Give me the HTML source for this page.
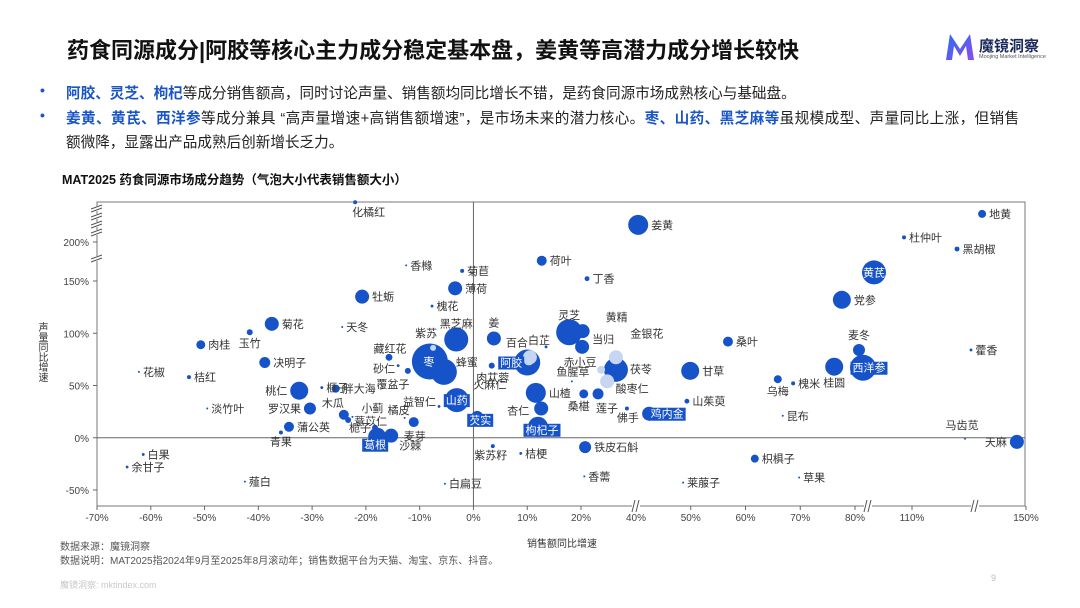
<!DOCTYPE html>
<html><head><meta charset="utf-8">
<style>
body{margin:0;background:#fff;}
#root{position:relative;width:1080px;height:608px;overflow:hidden;font-family:"Liberation Sans","Noto Sans CJK SC",sans-serif;color:#222;}
.abs{position:absolute;white-space:nowrap;}
.b{color:#1a55c8;font-weight:bold;}
</style></head>
<body>
<div id="root">
<div class="abs" style="left:67px;top:33px;font-size:22px;font-weight:bold;color:#111;">药食同源成分|阿胶等核心主力成分稳定基本盘，姜黄等高潜力成分增长较快</div>
<div class="abs" style="left:944px;top:32px;width:98px;height:32px;">
 <svg width="32" height="30" style="position:absolute;left:0;top:0"><defs><linearGradient id="lg" x1="0" y1="0" x2="1" y2="1"><stop offset="0" stop-color="#2d6df0"/><stop offset="1" stop-color="#8a4cf0"/></linearGradient></defs><path d="M2 28 L6 2 L16 17 L26 2 L30 28 L24 28 L22 14 L16 24 L10 14 L8 28Z" fill="url(#lg)"/></svg>
 <div class="abs" style="left:35px;top:3px;font-size:15px;font-weight:bold;color:#1b2a5a;">魔镜洞察</div>
 <div class="abs" style="left:35px;top:22px;font-size:5.5px;color:#555;">Moojing Market Intelligence</div>
</div>
<div class="abs" style="left:40px;top:82px;font-size:14px;" ><span class="b">•</span></div>
<div class="abs" style="left:66px;top:82px;font-size:14.6px;"><span class="b">阿胶、灵芝、枸杞</span>等成分销售额高，同时讨论声量、销售额均同比增长不错，是药食同源市场成熟核心与基础盘。</div>
<div class="abs" style="left:40px;top:107px;font-size:14px;"><span class="b">•</span></div>
<div class="abs" style="left:66px;top:107px;font-size:14.6px;letter-spacing:0.4px;"><span class="b">姜黄、黄芪、西洋参</span>等成分兼具 “高声量增速+高销售额增速”，是市场未来的潜力核心。<span class="b">枣、山药、黑芝麻等</span>虽规模成型、声量同比上涨，但销售</div>
<div class="abs" style="left:66px;top:131px;font-size:14.6px;">额微降，显露出产品成熟后创新增长乏力。</div>
<div class="abs" style="left:62px;top:169px;font-size:12.5px;font-weight:bold;color:#111;">MAT2025 药食同源市场成分趋势（气泡大小代表销售额大小）</div>
<div class="abs" style="left:34px;top:322px;font-size:10px;writing-mode:vertical-rl;color:#333;">声量同比增速</div>
<div class="abs" style="left:527px;top:535px;font-size:10px;color:#333;">销售额同比增速</div>
<div class="abs" style="left:60px;top:538px;font-size:10px;color:#555;">数据来源：魔镜洞察</div>
<div class="abs" style="left:60px;top:552px;font-size:10px;color:#555;">数据说明：MAT2025指2024年9月至2025年8月滚动年；销售数据平台为天猫、淘宝、京东、抖音。</div>
<div class="abs" style="left:60px;top:578px;font-size:9px;color:#c8c8c8;">魔镜洞察: mktindex.com</div>
<div class="abs" style="left:991px;top:573px;font-size:9px;color:#bbb;">9</div>
<svg id="chart" width="1080" height="608" style="position:absolute;left:0;top:0"></svg>
</div>
<script>
const names=["化橘红","香橼","菊苣","薄荷","牡蛎","槐花","天冬","菊花","玉竹","肉桂","决明子","花椒","桔红","桃仁","榧子","胖大海","罗汉果","淡竹叶","蒲公英","青果","木瓜","薏苡仁","小蓟","栀子","葛根","沙棘","麦芽","橘皮","益智仁","山药","覆盆子","砂仁","藏红花","枣","蜂蜜","紫苏","黑芝麻","姜","白芷","阿胶","百合","肉苁蓉","火麻仁","灵芝","黄精","当归","金银花","茯苓","赤小豆","酸枣仁","鱼腥草","山楂","杏仁","枸杞子","桑椹","莲子","佛手","鸡内金","甘草","山茱萸","芡实","紫苏籽","桔梗","铁皮石斛","香薷","莱菔子","白扁豆","薤白","白果","余甘子","荷叶","丁香","姜黄","地黄","杜仲叶","黑胡椒","黄芪","党参","桑叶","麦冬","西洋参","桂圆","藿香","乌梅","槐米","昆布","马齿苋","天麻","枳椇子","草果"];
const salesGrowth=[-22,-12.5,-2.1,-3.4,-20.7,-7.7,-24.4,-37.5,-41.6,-50.7,-38.8,-62.2,-52.9,-32.4,-28.2,-25.6,-30.4,-49.5,-34.3,-35.8,-24.1,-23.3,-22.5,-18.3,-17.9,-15.3,-11.1,-12.8,-6.4,-3.1,-12.2,-14,-15.7,-8.1,-5.5,-7.5,-3.2,3.8,13.5,10,10.5,3.4,10.3,17.8,20.6,20.4,32.7,32.7,27.3,29.5,18.3,11.6,12.6,12,21,26.2,36.7,42.4,49.9,49.3,0.7,3.6,8.8,21.5,21.2,48.6,-5.3,-42.5,-61.4,-64.4,12.7,22.2,40.4,134.6,105.8,125.8,90,77.6,56.8,82.1,84.2,76.2,130.7,65.9,68.7,66.8,128.6,146.8,61.7,69.8];
const volumeGrowth=[251,170,163,143,135,126,106,109,101,89,72,63,58,45,48,47,28,28,10.5,5,22,17,20,9.6,1,2,15,19,30,36,64,69,77,73,63,86,94,95,87,72,77,69,74,101,102,87,77,65,65,54,54,43,28,10.5,42,42,28,23,64,35,20,-8,-15,-9,-37,-43,-44,-42,-16,-28,176,153,222,236,206,191,161,132,92,84,67,68,84,56,52,21,-1,-4,-20,-38];
const salesSize=[4,1,4,49,49,2,1,49,9,20,30,1,4,81,2,16,36,1,25,4,25,9,1,9,81,49,25,1,2,144,9,2,12,324,169,9,144,49,2,169,49,9,25,169,49,49,49,144,16,49,1,100,49,100,20,30,4,49,81,6,36,4,2,36,1,1,1,1,2,2,25,6,100,16,4,6,144,81,25,36,169,81,2,16,4,1,1,49,16,1];
const paleSet=["紫苏","百合","火麻仁","金银花","赤小豆","酸枣仁"];
const boxedSet=["阿胶","山药","葛根","芡实","枸杞子","鸡内金","西洋参"];
const insideSet=["枣","黄芪"];
const xTicks=[-70,-60,-50,-40,-30,-20,-10,0,10,20,40,50,60,70,80,110,150];
const yTicks=[-50,0,50,100,150,200];
const xTickLabels=xTicks.map(v=>v+"%");
const yTickLabels=yTicks.map(v=>v+"%");

const XK=[[-70,97],[20,581],[40,636],[80,855],[110,912],[150,1026]];
const YK=[[-50,490],[150,281],[200,242],[300,164]];
function pw(K,v){for(let i=0;i<K.length-1;i++){if(v<=K[i+1][0]||i==K.length-2){const [a,pa]=K[i],[b,pb]=K[i+1];return pa+(v-a)/(b-a)*(pb-pa);}}}
const xS=v=>pw(XK,v), yS=v=>pw(YK,v);
const rS=s=>Math.sqrt(s);
const L=97,R=1025,T=202,B=506;
const NS="http://www.w3.org/2000/svg";
const svg=document.getElementById('chart');
function mk(t,a,p){const e=document.createElementNS(NS,t);for(const k in a)e.setAttribute(k,a[k]);(p||svg).appendChild(e);return e;}
const frame=mk('rect',{x:L,y:T,width:R-L,height:B-T,fill:'none',stroke:'#777','stroke-width':1});


const zx=mk('line',{x1:xS(0),x2:xS(0),y1:T,y2:B,stroke:'#666','stroke-width':1});


const zy=mk('line',{x1:L,x2:R,y1:yS(0),y2:yS(0),stroke:'#666','stroke-width':1});


xTicks.forEach((v,i)=>{const x=xS(v);
 mk('line',{x1:x,x2:x,y1:B,y2:B+4,stroke:'#666'});
 const t=mk('text',{x:x,y:B+15,'text-anchor':'middle','font-size':10,fill:'#444'});t.textContent=xTickLabels[i];
 
 });
yTicks.forEach((v,i)=>{const y=yS(v);
 mk('line',{x1:L-4,x2:L,y1:y,y2:y,stroke:'#666'});
 const t=mk('text',{x:L-8,y:y+4,'text-anchor':'end','font-size':10,fill:'#444'});t.textContent=yTickLabels[i];
 
 });
[636,868,975].forEach(x=>{mk('rect',{x:x-4,y:B-6,width:8,height:12,fill:'#fff'});
 mk('line',{x1:x-4,y1:B+6,x2:x-1,y2:B-6,stroke:'#555'});mk('line',{x1:x,y1:B+6,x2:x+3,y2:B-6,stroke:'#555'});});
[208,216,224,232,258].forEach(y=>{mk('rect',{x:L-6,y:y-2,width:12,height:5,fill:'#fff'});
 mk('line',{x1:L-6,y1:y+1,x2:L+5,y2:y-3,stroke:'#555'});mk('line',{x1:L-6,y1:y+4,x2:L+5,y2:y,stroke:'#555'});});
const lay={"化橘红":[-3,14,'start'],"玉竹":[0,15,'middle'],"桃仁":['L',4,'end'],"罗汉果":['L',4,'end'],"青果":[0,13,'middle'],"木瓜":[-11,-8,'middle'],"小蓟":[20,-5,'middle'],"薏苡仁":[6,5,'start'],"栀子":[-4,4,'end'],"沙棘":[19,14,'middle'],"麦芽":[1,18,'middle'],"橘皮":[-6,-4,'middle'],"益智仁":[-3,-1,'end'],"覆盆子":[-15,17,'middle'],"砂仁":[-3,7,'end'],"藏红花":[1,-5,'middle'],"紫苏":[-7,-11,'middle'],"黑芝麻":[0,-12,'middle'],"蜂蜜":[23,-6,'middle'],"姜":[0,-12,'middle'],"百合":[-13,-11,'middle'],"白芷":[-7,-3,'middle'],"阿胶":[-16,4,'middle'],"山药":[0,4,'middle'],"葛根":[-2,12,'middle'],"肉苁蓉":[1,16,'middle'],"火麻仁":[-39,28,'middle'],"灵芝":[0,-13,'middle'],"黄精":[34,-10,'middle'],"当归":[21,-4,'middle'],"金银花":[31,-20,'middle'],"茯苓":[25,3,'middle'],"赤小豆":[-21,-4,'middle'],"鱼腥草":[1,-6,'middle'],"酸枣仁":[25,11,'middle'],"桑椹":[-5,16,'middle'],"莲子":[9,18,'middle'],"佛手":[1,13,'middle'],"鸡内金":[18,4,'middle'],"杏仁":[-23,6,'middle'],"枸杞子":[4,7,'middle'],"芡实":[3,7,'middle'],"紫苏籽":[-2,13,'middle'],"乌梅":[0,16,'middle'],"桂圆":[0,20,'middle'],"麦冬":[0,-11,'middle'],"西洋参":[6,4,'middle'],"马齿苋":[-3,-10,'middle'],"天麻":['L',4,'end'],"枣":[-1,4,'middle'],"黄芪":[0,4,'middle']};
const order=names.map((n,i)=>i).sort((a,b)=>{const pa=paleSet.includes(names[a]),pb=paleSet.includes(names[b]);if(pa!=pb)return pa?1:-1;return salesSize[b]-salesSize[a];});
order.forEach(i=>{
 const c=mk('circle',{cx:xS(salesGrowth[i]),cy:yS(volumeGrowth[i]),r:rS(salesSize[i]),fill:paleSet.includes(names[i])?'#c6d6f2':'#1753c8'});
 
 
});
names.forEach((n,i)=>{
 const cx=xS(salesGrowth[i]),cy=yS(volumeGrowth[i]),r=rS(salesSize[i]);
 let o=lay[n]||[r+3,4,'start'];
 let dx=o[0]==='L'?-r-3:o[0];
 const x=cx+dx,y=cy+o[1];
 const boxed=boxedSet.includes(n),inside=insideSet.includes(n);
 if(boxed){const w=n.length*11+4;mk('rect',{x:(o[2]=='middle'?x-w/2:x),y:y-10,width:w,height:13,fill:'#1753c8'});}
 const t=mk('text',{x:x,y:y,'text-anchor':o[2],'font-size':11,fill:(boxed||inside)?'#fff':'#333'});
 t.textContent=n;
 
 
});
</script>
</body></html>
